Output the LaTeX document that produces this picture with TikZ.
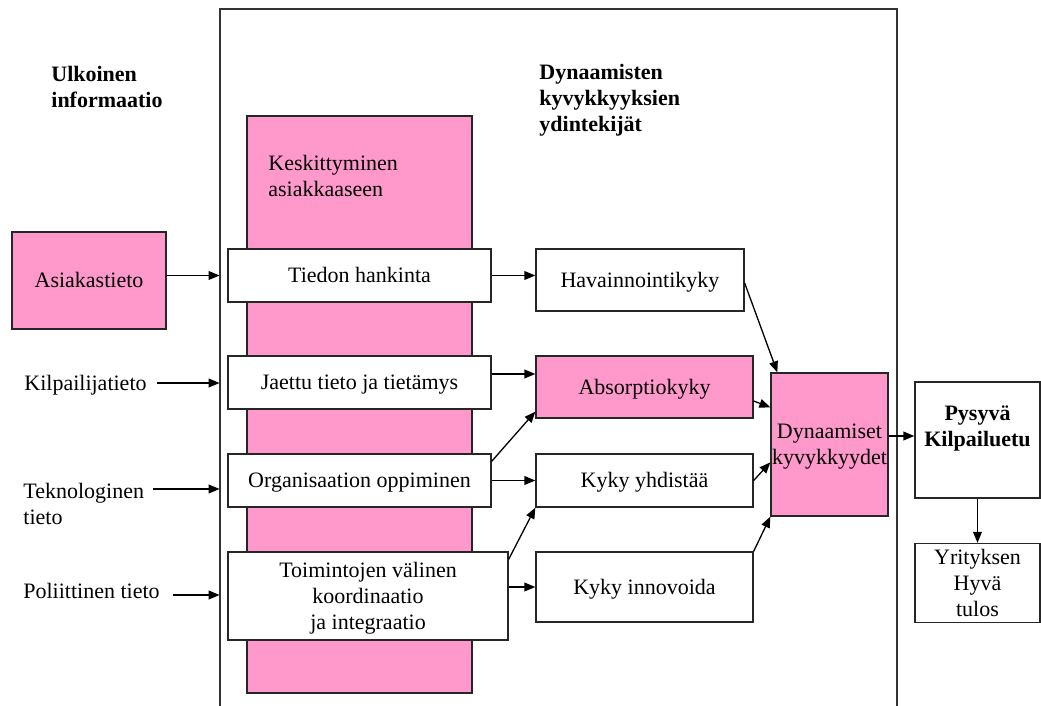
\documentclass[tikz,border=0pt]{standalone}
\usepackage{fontspec}
\setmainfont{Liberation Serif}
\usetikzlibrary{arrows.meta,calc}
\definecolor{rosa}{HTML}{FF99CC}
\begin{document}
\begin{tikzpicture}[x=0.5pt,y=-0.5pt,
  font=\fontsize{11}{13}\selectfont,
  box/.style={draw=black!85,line width=0.65pt,fill=white,inner sep=0pt,align=center,text depth=0.5pt},
  pinkbox/.style={box,fill=rosa},
  lbl/.style={inner sep=0pt,align=left,anchor=west},
  bold/.style={font=\fontsize{11}{13}\selectfont\bfseries},
  arr/.style={-{Triangle[length=5.5pt,width=4.4pt]},line width=0.65pt,draw=black},
  framestyle/.style={draw=black!80,line width=1pt}]
\useasboundingbox (0,0) rectangle (1041,706);

% surrounding frame, open at the bottom
\node[inner sep=0pt,minimum width=338.5pt,minimum height=348.25pt,anchor=north] (frame) at (558.5,9.5) {};
\draw[framestyle] (frame.south west) -- (frame.north west) -- (frame.north east) -- (frame.south east);

% headings
\node[lbl,bold] (ulk) at (51,87) {Ulkoinen\\informaatio};
\node[lbl,bold] (ydin) at (539,100) {Dynaamisten\\kyvykkyyksien\\ydintekijät};

% customer-focus column
\node[pinkbox,minimum width=112.5pt,minimum height=288.5pt] (kesk) at (359.5,404.5) {};
\node[lbl] (keskt) at (268,176) {Keskittyminen\\asiakkaaseen};

% external information
\node[pinkbox,minimum width=77pt,minimum height=48.5pt] (asiak) at (89,280.5) {Asiakastieto};
\node[lbl] (kil) at (24,385) {Kilpailijatieto};
\node[lbl] (tek) at (23,504) {Teknologinen\\tieto};
\node[lbl] (pol) at (23,591) {Poliittinen tieto};

% processes
\node[box,minimum width=131.5pt,minimum height=26.5pt] (tiedon) at (359.5,275.5) {Tiedon hankinta};
\node[box,minimum width=131.5pt,minimum height=26.5pt] (jaettu) at (359.5,382.5) {Jaettu tieto ja tietämys};
\node[box,minimum width=131.5pt,minimum height=26.5pt] (org) at (359.5,480.5) {Organisaation oppiminen};
\node[box,minimum width=140pt,minimum height=44pt] (toim) at (368,596) {Toimintojen välinen\\koordinaatio\\ja integraatio};

% capabilities
\node[box,minimum width=104pt,minimum height=31pt] (hav) at (640,280) {Havainnointikyky};
\node[pinkbox,minimum width=108.5pt,minimum height=31pt] (abs) at (644.5,387) {Absorptiokyky};
\node[box,minimum width=108.5pt,minimum height=26.5pt] (yhd) at (644.5,480.5) {Kyky yhdistää};
\node[box,minimum width=108.5pt,minimum height=35pt] (inn) at (644.5,587) {Kyky innovoida};
\node[pinkbox,minimum width=58.5pt,minimum height=71.5pt] (dyn) at (829.5,444.5) {Dynaamiset\\kyvykkyydet};

% outcomes
\node[box,minimum width=62.5pt,minimum height=58pt] (pys) at (977.5,440) {};
\node[bold,align=center,inner sep=0pt] (pyst) at (977.5,428) {Pysyvä\\Kilpailuetu};
\node[box,minimum width=62.5pt,minimum height=39.5pt] (yri) at (977.5,583) {Yrityksen\\Hyvä\\tulos};

% inputs into the frame
\draw[arr] (asiak.east |- tiedon.west) -- (frame.west |- tiedon.west);
\coordinate (kilout) at ($(kil.east)+(10,-2)$);
\draw[arr] (kilout) -- (kilout -| frame.west);
\coordinate (tekout) at ($(tek.east)+(9,-15)$);
\draw[arr] (tekout) -- (tekout -| frame.west);
\coordinate (polout) at ($(pol.east)+(13,4)$);
\draw[arr] (polout) -- (polout -| frame.west);

% processes to capabilities
\draw[arr] (tiedon.east) -- (tiedon.east -| hav.west);
\coordinate (jaout) at ($(jaettu.east)+(0,-8.5)$);
\draw[arr] (jaout) -- (jaout -| abs.west);
\draw[arr] (org.east) -- (org.east -| yhd.west);
\draw[arr] ($(org.north east)+(0,8)$) -- ($(abs.south west)+(0,-7)$);
\draw[arr] ($(toim.north east)+(0,8)$) -- (yhd.south west);
\coordinate (toout) at ($(toim.east)+(0,-9)$);
\draw[arr] (toout) -- (toout -| inn.west);

% capabilities to dynamic capabilities
\draw[arr] ($(hav.east)+(0,3)$) -- ($(dyn.north west)+(7,0)$);
\draw[arr] ($(abs.east)+(0,14)$) -- ($(dyn.north west)+(0,35)$);
\draw[arr] (yhd.east) -- ($(dyn.north west)+(0,90)$);
\draw[arr] (inn.north east) -- (dyn.south west);

% outcomes
\coordinate (dynout) at ($(dyn.east)+(0,-8.5)$);
\draw[arr] (dynout) -- (dynout -| pys.west);
\draw[arr] (pys.south) -- (yri.north);
\end{tikzpicture}
\end{document}
